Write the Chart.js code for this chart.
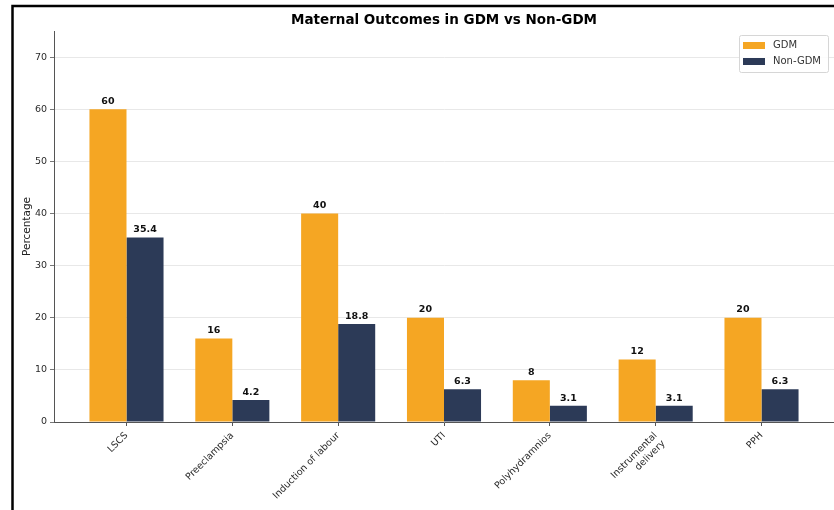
<!DOCTYPE html>
<html>
<head>
<meta charset="utf-8">
<script src="https://cdn.jsdelivr.net/npm/chart.js@4"></script>
<style>
  html, body { margin: 0; padding: 0; background: #fff; }
  #wrap { width: 834px; height: 510px; }
</style>
</head>
<body>
<div id="wrap"><canvas id="chart" width="834" height="510"></canvas></div>
<script>
// data
const categories = ['LSCS', 'Preeclampsia', 'Induction of labour', 'UTI', 'Polyhydramnios', ['Instrumental', 'delivery'], 'PPH'];
const gdmValues = [60, 16, 40, 20, 8, 12, 20];
const nonGdmValues = [35.4, 4.2, 18.8, 6.3, 3.1, 3.1, 6.3];
const seriesNames = ['GDM', 'Non-GDM'];
const chartTitle = 'Maternal Outcomes in GDM vs Non-GDM';
const yTitle = 'Percentage';

const ORANGE = '#F5A623';
const NAVY = '#2C3A57';
const FONT = 'DejaVu Sans';

// black frame around the picture (cropped screenshot look)
const framePlugin = {
    id: 'frame',
    beforeDraw(chart) {
        const ctx = chart.ctx;
        ctx.save();
        ctx.fillStyle = '#fff';
        ctx.fillRect(0, 0, chart.width, chart.height);
        ctx.strokeStyle = '#000';
        ctx.lineWidth = 2.5;
        ctx.beginPath();
        ctx.moveTo(12.5, chart.height);
        ctx.lineTo(12.5, 6);
        ctx.lineTo(chart.width, 6);
        ctx.stroke();
        ctx.restore();
    }
};

// numbers above the bars
const valueLabels = {
    id: 'valueLabels',
    afterDatasetsDraw(chart) {
        const ctx = chart.ctx;
        ctx.save();
        ctx.font = 'bold 9.5px "' + FONT + '"';
        ctx.fillStyle = '#111';
        ctx.textAlign = 'center';
        ctx.textBaseline = 'bottom';
        chart.data.datasets.forEach((ds, di) => {
            chart.getDatasetMeta(di).data.forEach((bar, i) => {
                ctx.fillText(String(ds.data[i].y), bar.x, bar.y - 3);
            });
        });
        ctx.restore();
    }
};

// title centred over the axes, and the boxed legend in the top right corner
const titleLegend = {
    id: 'titleLegend',
    afterDraw(chart) {
        const ctx = chart.ctx;
        const area = chart.chartArea;
        ctx.save();
        ctx.font = 'bold 13.5px "' + FONT + '"';
        ctx.fillStyle = '#000';
        ctx.textAlign = 'center';
        ctx.textBaseline = 'middle';
        ctx.fillText(chartTitle, (area.left + area.right) / 2, 20);

        // legend box
        const bx = 739.5, by = 35.5, bw = 89, bh = 37;
        ctx.fillStyle = 'rgba(255,255,255,0.85)';
        ctx.strokeStyle = '#d6d6d6';
        ctx.lineWidth = 1;
        ctx.beginPath();
        ctx.roundRect(bx, by, bw, bh, 2);
        ctx.fill();
        ctx.stroke();

        ctx.font = '10px "' + FONT + '"';
        ctx.textAlign = 'left';
        chart.data.datasets.forEach((ds, i) => {
            const cy = 45.5 + i * 16;
            ctx.fillStyle = ds.backgroundColor;
            ctx.fillRect(743, cy - 3.5, 22, 7);
            ctx.fillStyle = '#333';
            ctx.fillText(ds.label, 773, cy);
        });
        ctx.restore();
    }
};

new Chart(document.getElementById('chart'), {
    type: 'bar',
    data: {
        datasets: [
            {
                label: seriesNames[0],
                data: gdmValues.map((v, i) => ({ x: i, y: v })),
                backgroundColor: ORANGE
            },
            {
                label: seriesNames[1],
                data: nonGdmValues.map((v, i) => ({ x: i, y: v })),
                backgroundColor: NAVY
            }
        ]
    },
    options: {
        responsive: false,
        animation: false,
        layout: { padding: { top: 31, left: 0, right: 0, bottom: 0 } },
        datasets: {
            bar: { categoryPercentage: 0.7, barPercentage: 1.0 }
        },
        plugins: {
            legend: { display: false },
            title: { display: false },
            tooltip: { enabled: false }
        },
        scales: {
            x: {
                type: 'linear',
                offset: false,
                min: -0.685,
                max: 6.685,
                grid: {
                    display: true,
                    offset: false,
                    drawOnChartArea: false,
                    drawTicks: true,
                    tickLength: 4,
                    tickColor: '#555'
                },
                border: { color: '#555', width: 1 },
                ticks: {
                    stepSize: 1,
                    includeBounds: false,
                    autoSkip: false,
                    maxRotation: 45,
                    minRotation: 45,
                    padding: 4,
                    color: '#2a2a2a',
                    font: { family: FONT, size: 9.5 },
                    callback: (value) => categories[value]
                },
                afterFit(scale) {
                    scale.height = 88;
                    scale.paddingLeft = 0;
                    scale.paddingRight = 0;
                }
            },
            y: {
                min: 0,
                max: 75,
                grid: {
                    color: '#e2e2e2',
                    lineWidth: 0.8,
                    tickColor: '#555',
                    tickLength: 4
                },
                border: { color: '#555', width: 1 },
                ticks: {
                    stepSize: 10,
                    includeBounds: false,
                    padding: 3,
                    color: '#2a2a2a',
                    font: { family: FONT, size: 9.5 }
                },
                title: {
                    display: true,
                    text: yTitle,
                    color: '#222',
                    font: { family: FONT, size: 10.5 },
                    padding: { top: 21, bottom: 0 }
                },
                afterFit(scale) {
                    scale.width = 54;
                }
            }
        }
    },
    plugins: [framePlugin, valueLabels, titleLegend]
});
</script>
</body>
</html>
